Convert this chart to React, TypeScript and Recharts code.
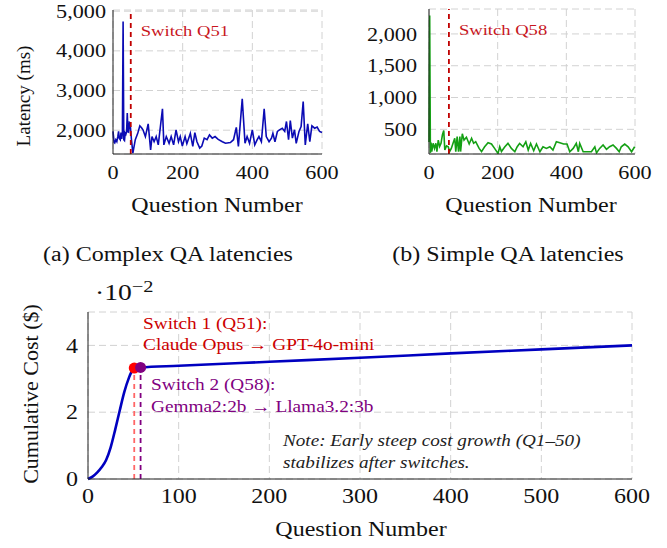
import React from "react";
import {
  LineChart,
  Line,
  XAxis,
  YAxis,
  CartesianGrid,
  ReferenceLine,
  ReferenceDot,
} from "recharts";

// (a) complex QA latency, ms
const complexQ = [0, 3, 5, 8, 11, 14, 16, 18, 21, 23, 25, 27, 29, 31, 33, 35, 37, 39, 41, 43, 45, 47, 49, 53, 57, 64, 71, 77, 82, 86, 93, 101, 108, 112, 118, 124, 130, 142, 146, 153, 161, 167, 174, 181, 188, 193, 199, 207, 212, 222, 229, 235, 241, 249, 255, 262, 270, 277, 285, 293, 302, 314, 323, 337, 346, 354, 360, 371, 379, 385, 392, 400, 407, 414, 419, 426, 434, 440, 448, 455, 459, 465, 472, 478, 486, 493, 498, 504, 509, 515, 521, 526, 534, 540, 546, 552, 559, 565, 571, 579, 586, 593, 600];
const complexLatency = [1970, 1700, 1680, 1760, 1710, 1850, 1970, 1800, 1760, 1940, 1780, 1930, 4740, 1760, 1740, 1930, 1900, 1960, 2430, 1960, 1950, 2200, 2190, 1760, 1420, 1760, 1920, 2110, 2060, 2010, 1840, 2160, 1500, 1840, 1710, 1840, 1630, 2540, 1630, 1840, 1670, 1840, 1630, 2010, 1710, 1840, 1600, 1840, 1660, 1920, 1590, 1940, 1710, 1550, 1600, 1800, 1760, 1880, 1800, 1840, 1770, 1710, 1670, 1690, 1760, 2070, 1590, 2790, 1670, 1840, 1670, 2010, 1630, 1760, 1840, 1710, 2540, 1840, 1710, 1800, 1920, 1710, 1970, 2010, 2050, 1970, 2220, 1760, 2240, 1800, 2010, 1670, 1970, 2090, 2720, 1630, 2160, 1710, 2110, 2050, 2080, 1970, 1940];

// (b) simple QA latency, ms
const simpleQ = [0, 2, 4, 6, 8, 12, 16, 20, 23, 27, 31, 35, 39, 43, 46, 51, 56, 60, 65, 70, 75, 78, 82, 86, 90, 92, 97, 102, 109, 117, 124, 130, 136, 146, 153, 162, 172, 182, 191, 201, 206, 211, 221, 230, 240, 250, 257, 264, 274, 282, 289, 296, 305, 313, 323, 332, 342, 352, 361, 371, 381, 392, 402, 410, 420, 429, 435, 439, 449, 459, 473, 483, 488, 497, 507, 517, 526, 536, 546, 554, 560, 570, 580, 590, 599];
const simpleLatency = [300, 2290, 130, 290, 150, 280, 200, 280, 150, 330, 230, 280, 410, 480, 175, 240, 225, 150, 200, 280, 360, 150, 385, 150, 385, 150, 430, 330, 375, 270, 360, 280, 305, 200, 150, 226, 290, 270, 200, 121, 226, 150, 226, 279, 200, 148, 226, 279, 226, 305, 174, 279, 164, 269, 148, 226, 200, 226, 174, 305, 290, 269, 269, 148, 200, 279, 148, 279, 148, 148, 148, 226, 130, 200, 253, 185, 226, 253, 200, 148, 226, 269, 226, 148, 226];

// (c) cumulative cost, in units of 10^-2 $
const costQ = [0, 5, 10, 15, 20, 25, 30, 35, 40, 45, 50, 51, 58, 100, 200, 300, 400, 500, 600];
const costValue = [0, 0.07, 0.19, 0.35, 0.57, 0.95, 1.48, 2.05, 2.6, 3.02, 3.3, 3.32, 3.34, 3.39, 3.51, 3.63, 3.76, 3.88, 4.0];

const qTicks = [0, 200, 400, 600];
const costQTicks = [0, 100, 200, 300, 400, 500, 600];
const complexTicks = [2000, 3000, 4000, 5000];
const simpleTicks = [500, 1000, 1500, 2000];
const costTicks = [0, 2, 4];

const switchComplex = 51;
const switchSimple = 58;

const complexData = complexQ.map((q, i) => ({ q, v: complexLatency[i] }));
const simpleData = simpleQ.map((q, i) => ({ q, v: simpleLatency[i] }));
const costData = costQ.map((q, i) => ({ q, v: costValue[i] }));
const cost1 = costValue[costQ.indexOf(switchComplex)];
const cost2 = costValue[costQ.indexOf(switchSimple)];

const SERIF = '"Liberation Serif", "Times New Roman", serif';
const fmt = (v: number) => v.toLocaleString("en-US");

function Tick(props: any) {
  const { x, y, payload, side, size, sx } = props;
  const isY = side === "y";
  return (
    <text
      x={0}
      y={0}
      dy={isY ? "0.355em" : "0.71em"}
      textAnchor={isY ? "end" : "middle"}
      transform={`translate(${x},${y}) scale(${sx},1)`}
      fontFamily={SERIF}
      fontSize={size}
      fill="#111"
    >
      {fmt(payload.value)}
    </text>
  );
}

function SwitchLabel(props: any) {
  const { viewBox, text } = props;
  return (
    <text
      x={0}
      y={0}
      transform={`translate(${viewBox.x + 10},${viewBox.y + 26}) scale(1.2,1)`}
      fontFamily={SERIF}
      fontSize={15.5}
      fill="#c8161d"
    >
      {text}
    </text>
  );
}

function Txt(props: any) {
  const { x, y, size, color = "#111", italic = false, rotate = false, sx = 1, anchor = "middle", children } = props;
  const style: React.CSSProperties = {
    position: "absolute",
    left: x,
    top: y,
    fontFamily: SERIF,
    fontSize: size,
    color,
    fontStyle: italic ? "italic" : "normal",
    whiteSpace: "nowrap",
    lineHeight: 1,
    transformOrigin: anchor === "middle" ? "center" : "left center",
    transform: rotate
      ? "translate(-50%,-50%) rotate(-90deg)"
      : `translate(${anchor === "middle" ? "-50%" : "0"},-50%) scaleX(${sx})`,
  };
  return <div style={style}>{children}</div>;
}

function LatencyChart(props: any) {
  const { data, color, domain, ticks, yWidth, yMargin, width, right, top, switchQ } = props;
  return (
    <LineChart width={width} height={200} data={data} margin={{ top, right, left: 0, bottom: 0 }}>
      <CartesianGrid stroke="#d2d2d2" strokeDasharray="7 4" />
      <XAxis
        dataKey="q"
        type="number"
        domain={[0, 600]}
        ticks={qTicks}
        height={46}
        tickSize={0}
        tickMargin={12}
        tickLine={false}
        axisLine={{ stroke: "#222" }}
        tick={(p: any) => <Tick {...p} side="x" size={18.5} sx={1.2} />}
      />
      <XAxis
        xAxisId="top"
        orientation="top"
        dataKey="q"
        type="number"
        domain={[0, 600]}
        ticks={qTicks}
        height={0}
        mirror
        tick={false}
        tickSize={4}
        tickLine={{ stroke: "#555" }}
        axisLine={{ stroke: "#222" }}
      />
      <YAxis
        type="number"
        domain={domain}
        ticks={ticks}
        allowDataOverflow
        width={yWidth}
        tickSize={0}
        tickMargin={yMargin}
        tickLine={false}
        axisLine={{ stroke: "#222" }}
        tick={(p: any) => <Tick {...p} side="y" size={18.5} sx={1.2} />}
      />
      <YAxis
        yAxisId="right"
        orientation="right"
        type="number"
        domain={domain}
        ticks={ticks}
        allowDataOverflow
        width={0}
        mirror
        tick={false}
        tickSize={4}
        tickLine={{ stroke: "#555" }}
        axisLine={{ stroke: "#222" }}
      />
      <Line type="linear" dataKey="v" stroke={color} strokeWidth={1.6} dot={false} isAnimationActive={false} />
      <ReferenceLine
        x={switchQ}
        stroke="#c00000"
        strokeWidth={1.8}
        strokeDasharray="5 4"
        label={<SwitchLabel text={`Switch Q${switchQ}`} />}
      />
    </LineChart>
  );
}

export default function App() {
  return (
    <div style={{ position: "absolute", left: 0, top: 0, width: 667, height: 548, background: "#fff", overflow: "hidden" }}>
      <div style={{ position: "absolute", left: 0, top: 0 }}>
        <LatencyChart
          data={complexData}
          color="#0b0bb4"
          domain={[1400, 5030]}
          ticks={complexTicks}
          yWidth={113}
          yMargin={7}
          width={345}
          right={23}
          top={10}
          switchQ={switchComplex}
        />
      </div>
      <div style={{ position: "absolute", left: 340, top: 0 }}>
        <LatencyChart
          data={simpleData}
          color="#14a014"
          domain={[112, 2392]}
          ticks={simpleTicks}
          yWidth={89}
          yMargin={12}
          width={327}
          right={32}
          top={9}
          switchQ={switchSimple}
        />
      </div>

      <Txt x={23} y={96} size={19} rotate>Latency (ms)</Txt>
      <Txt x={217} y={205} size={20} sx={1.2}>Question Number</Txt>
      <Txt x={531} y={205} size={20} sx={1.2}>Question Number</Txt>
      <Txt x={168} y={254} size={20} sx={1.2}>(a) Complex QA latencies</Txt>
      <Txt x={508} y={254} size={20} sx={1.2}>(b) Simple QA latencies</Txt>

      <div style={{ position: "absolute", left: 0, top: 270 }}>
        <LineChart width={667} height={250} data={costData} margin={{ top: 42, right: 35, left: 0, bottom: 0 }}>
          <CartesianGrid stroke="#d2d2d2" strokeDasharray="7 4" />
          <XAxis
            dataKey="q"
            type="number"
            domain={[0, 600]}
            ticks={costQTicks}
            height={41}
            tickSize={0}
            tickMargin={10}
            tickLine={false}
            axisLine={{ stroke: "#222" }}
            tick={(p: any) => <Tick {...p} side="x" size={20} sx={1.2} />}
          />
          <XAxis
            xAxisId="top"
            orientation="top"
            dataKey="q"
            type="number"
            domain={[0, 600]}
            ticks={costQTicks}
            height={0}
            mirror
            tick={false}
            tickSize={4}
            tickLine={{ stroke: "#555" }}
            axisLine={{ stroke: "#222" }}
          />
          <YAxis
            type="number"
            domain={[0, 5]}
            ticks={costTicks}
            width={88}
            tickSize={0}
            tickMargin={10}
            tickLine={false}
            axisLine={{ stroke: "#222" }}
            tick={(p: any) => <Tick {...p} side="y" size={20} sx={1.2} />}
          />
          <YAxis
            yAxisId="right"
            orientation="right"
            type="number"
            domain={[0, 5]}
            ticks={costTicks}
            width={0}
            mirror
            tick={false}
            tickSize={4}
            tickLine={{ stroke: "#555" }}
            axisLine={{ stroke: "#222" }}
          />
          <ReferenceLine
            segment={[{ x: switchComplex, y: 0 }, { x: switchComplex, y: cost1 }]}
            stroke="#ff6666"
            strokeWidth={1.8}
            strokeDasharray="5 4"
          />
          <ReferenceLine
            segment={[{ x: switchSimple, y: 0 }, { x: switchSimple, y: cost2 }]}
            stroke="#800080"
            strokeWidth={1.8}
            strokeDasharray="5 4"
          />
          <Line type="monotone" dataKey="v" stroke="#0000c0" strokeWidth={2.6} dot={false} isAnimationActive={false} />
          <ReferenceDot x={switchComplex} y={cost1} r={5.5} fill="#ff0000" stroke="none" />
          <ReferenceDot x={switchSimple} y={cost2} r={5.5} fill="#800080" stroke="none" />
        </LineChart>
      </div>

      <div
        style={{
          position: "absolute",
          left: 95,
          top: 281,
          fontFamily: SERIF,
          fontSize: 23,
          lineHeight: 1,
          color: "#111",
          whiteSpace: "nowrap",
          transform: "scaleX(1.2)",
          transformOrigin: "left center",
        }}
      >
        ·10<sup style={{ fontSize: 17, verticalAlign: "0.45em", lineHeight: 0 }}>−2</sup>
      </div>
      <Txt x={31} y={394} size={22} rotate>Cumulative Cost ($)</Txt>
      <Txt x={361} y={529} size={20} sx={1.2}>Question Number</Txt>

      <Txt x={143} y={324} size={16.5} sx={1.17} anchor="start" color="#cc0000">Switch 1 (Q51):</Txt>
      <Txt x={143} y={345} size={16.5} sx={1.17} anchor="start" color="#cc0000">Claude Opus → GPT-4o-mini</Txt>
      <Txt x={151} y={385} size={16.5} sx={1.17} anchor="start" color="#800080">Switch 2 (Q58):</Txt>
      <Txt x={151} y={407} size={16.5} sx={1.17} anchor="start" color="#800080">Gemma2:2b → Llama3.2:3b</Txt>
      <Txt x={283} y={441} size={16.5} sx={1.16} anchor="start" italic color="#222">Note: Early steep cost growth (Q1–50)</Txt>
      <Txt x={283} y={463} size={16.5} sx={1.16} anchor="start" italic color="#222">stabilizes after switches.</Txt>
    </div>
  );
}
